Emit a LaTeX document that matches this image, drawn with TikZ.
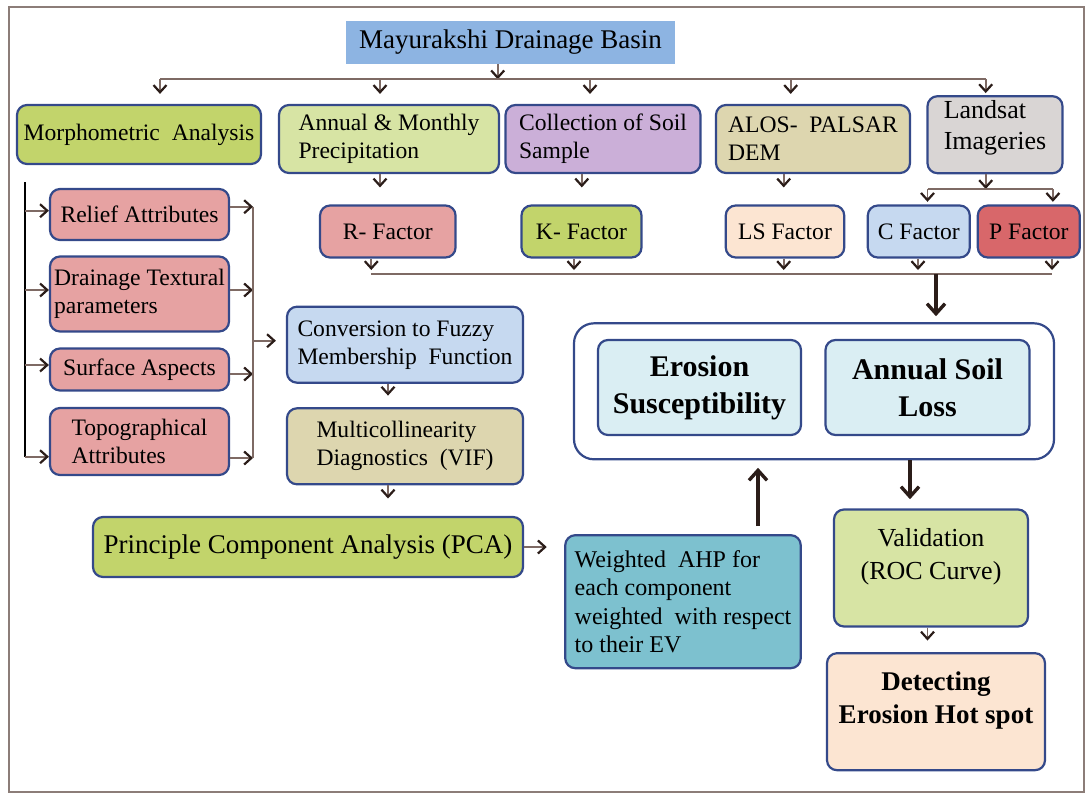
\documentclass[tikz,border=0pt]{standalone}
\usepackage{fontspec}
\setmainfont{Liberation Serif}
\usepackage{tikz}
\usetikzlibrary{arrows.meta}

\definecolor{boxline}{HTML}{34498A}
\definecolor{boxbasin}{HTML}{8DB4E2}
\definecolor{boxolive}{HTML}{C2D46B}
\definecolor{boxlime}{HTML}{D7E4A4}
\definecolor{boxlilac}{HTML}{CBAFD8}
\definecolor{boxsand}{HTML}{DDD6AF}
\definecolor{boxgray}{HTML}{D9D5D4}
\definecolor{boxpink}{HTML}{E6A2A2}
\definecolor{boxpeach}{HTML}{FCE5D2}
\definecolor{boxsky}{HTML}{C6D9F0}
\definecolor{boxred}{HTML}{D8676A}
\definecolor{boxteal}{HTML}{7DC1CF}
\definecolor{boxice}{HTML}{DAEEF3}
\definecolor{linegray}{HTML}{7E6A64}
\definecolor{tipdark}{HTML}{2B1D19}
\definecolor{framegray}{HTML}{8C7D78}

\tikzset{
      flow box/.style={
		rectangle,
		rounded corners=5pt,
		draw=boxline,
		line width=1.1pt,
		fill=#1,
		align=left,
		inner sep=2pt,
		font=\fontsize{11.8}{14}\selectfont,
	  },
      box size/.style 2 args={
		minimum width={#1*0.5pt}, % sizes are given in pixels of the sketch
		minimum height={#2*0.5pt},
	  },
      conn/.style={draw=linegray, line width=0.9pt},
      arr/.style={conn, -{Straight Barb[length=3.6pt, width=6.5pt, line width=1.1pt, color=tipdark]}},
      big arr/.style={draw=tipdark, line width=1.7pt, -{Straight Barb[length=5pt, width=9pt]}},
  	}

\begin{document}
\begin{tikzpicture}[x=0.5pt, y=-0.5pt]
    \useasboundingbox (0,0) rectangle (1086,794);
    \draw[framegray, line width=1pt] (9,7) rectangle (1084,792);

    % basin and the data sources
    \node[fill=boxbasin, box size={329}{43}, font=\fontsize{13.5}{16}\selectfont] (00) at (510.5,42.3) {Mayurakshi Drainage Basin};
    \node[flow box=boxolive, box size={244}{59}] (10) at (139,134.5) {Morphometric\ \ Analysis};
    \node[flow box=boxlime, box size={220}{68}] (11) at (389,139) {Annual \& Monthly\\Precipitation};
    \node[flow box=boxlilac, box size={195}{68}] (12) at (603,139) {Collection of Soil\\Sample};
    \node[flow box=boxsand, box size={194}{68}] (13) at (813,139) {ALOS-\ \ PALSAR\\DEM};
    \node[flow box=boxgray, box size={135}{76}, font=\fontsize{13}{15.5}\selectfont, text depth=10pt] (14) at (995,134.7) {Landsat\\Imageries};

    % factors
    \node[flow box=boxpink, box size={135.5}{52}] (21) at (387.8,231.5) {R- Factor};
    \node[flow box=boxolive, box size={120}{52}] (22) at (581.5,231.5) {K- Factor};
    \node[flow box=boxpeach, box size={118.5}{52}] (23) at (785,231.5) {LS Factor};
    \node[flow box=boxsky, box size={102}{52}] (24) at (918.8,231.5) {C Factor};
    \node[flow box=boxred, box size={102}{52}] (25) at (1028.8,231.5) {P Factor};

    % morphometric parameters
    \node[flow box=boxpink, box size={179}{51}] (30) at (139.5,214.5) {Relief Attributes};
    \node[flow box=boxpink, box size={179}{75}] (31) at (139.5,294) {Drainage Textural\\parameters};
    \node[flow box=boxpink, box size={179}{42}] (32) at (139.5,369.5) {Surface Aspects};
    \node[flow box=boxpink, box size={179}{67}] (33) at (139.5,441.5) {Topographical\\Attributes};

    \node[flow box=boxsky, box size={236}{76}] (40) at (405,344.7) {Conversion to Fuzzy\\Membership\ \ Function};
    \node[flow box=boxsand, box size={236}{76}] (41) at (405,446.3) {Multicollinearity\\Diagnostics\ \ (VIF)};
    \node[flow box=boxolive, box size={430}{60}, font=\fontsize{13.5}{16}\selectfont] (42) at (308,547) {Principle Component Analysis (PCA)};
    \node[flow box=boxteal, box size={235.5}{133}, font=\fontsize{12}{14.3}\selectfont] (50) at (683,601.7) {Weighted\ \ AHP for\\each component\\weighted\ \ with respect\\to their EV};

    % outputs
    \node[flow box=white, rounded corners=10pt, box size={480}{136}] (60) at (814,391.3) {};
    \node[flow box=boxice, align=center, box size={203}{95}, font=\fontsize{15}{18.5}\selectfont\bfseries] (61) at (699.5,387.5) {Erosion\\Susceptibility};
    \node[flow box=boxice, align=center, box size={204}{95}, font=\fontsize{15}{18.5}\selectfont\bfseries] (62) at (927.5,387.5) {Annual Soil\\Loss};
    \node[flow box=boxlime, align=center, box size={194}{117}, font=\fontsize{13}{16.5}\selectfont, text depth=14pt] (70) at (931,568) {Validation\\(ROC Curve)};
    \node[flow box=boxpeach, align=center, box size={218}{117}, font=\fontsize{13.5}{16.5}\selectfont\bfseries, text depth=14.5pt] (71) at (936,711.7) {Detecting\\Erosion Hot spot};

    % top distribution
    \coordinate (bus) at (497.7,79.3);
    \coordinate (fork) at (985.7,189);
    \coordinate (sink) at (936,274);
    \draw[arr] (00.south -| bus) -- (bus);
    \draw[conn] (160,0 |- bus) -- (985.7,0 |- bus);
    \foreach \x/\n/\s in {160/10/5, 380/11/5, 590/12/5, 790.7/13/5, 985.7/14/1}
      \draw[arr, shorten >=\s pt] (\x,0 |- bus) -- (\x,0 |- \n.north);
    \foreach \x/\a/\b in {380/11/21, 581.8/12/22, 783.7/13/23}
      \draw[arr, shorten >=8.5pt] (\x,0 |- \a.south) -- (\x,0 |- \b.north);
    \draw[arr] (14.south -| fork) -- (fork);
    \draw[conn] (927.5,0 |- fork) -- (1052.9,0 |- fork);
    \foreach \x/\n in {927.5/24, 1052.9/25}
      \draw[arr, shorten >=1.3pt] (\x,0 |- fork) -- (\x,0 |- \n.north);

    % factors to the outputs
    \draw[conn] (371.3,0 |- sink) -- (1052,0 |- sink);
    \foreach \x/\n in {371.3/21, 574/22, 783.7/23, 918/24, 1052/25}
      \draw[arr, shorten >=2pt] (\x,0 |- \n.south) -- (\x,0 |- sink);
    \draw[big arr, shorten >=3pt] (sink) -- (sink |- 60.north);

    % morphometric side
    \coordinate (lbus) at (25,182);
    \coordinate (rbus) at (253,340.7);
    \draw[black, line width=1pt] (lbus) -- (lbus |- 0,457);
    \foreach \y/\n in {210.7/30, 290/31, 365/32, 456.7/33}
      \draw[arr] (lbus |- 0,\y) -- (\n.west |- 0,\y);
    \foreach \y/\n in {206.7/30, 290/31, 374/32, 458/33}
      \draw[arr] (\n.east |- 0,\y) -- (rbus |- 0,\y);
    \draw[conn] (rbus |- 0,206.7) -- (rbus |- 0,458);
    \draw[arr, shorten >=5pt] (rbus) -- (40.west |- rbus);
    \draw[arr, shorten >=5.8pt] (388,0 |- 40.south) -- (388,0 |- 41.north);
    \draw[arr, shorten >=8.7pt] (388,0 |- 41.south) -- (388,0 |- 42.north);
    \draw[arr, shorten >=8.7pt] (42.east) -- (50.west |- 42.east);
    \draw[big arr, shorten <=4pt, shorten >=3.7pt] (758,0 |- 50.north) -- (758,0 |- 60.south);
    \draw[big arr, shorten >=4.6pt] (910,0 |- 60.south) -- (910,0 |- 70.north);
    \draw[arr, shorten >=5.8pt] (927.5,0 |- 70.south) -- (927.5,0 |- 71.north);
\end{tikzpicture}
\end{document}
